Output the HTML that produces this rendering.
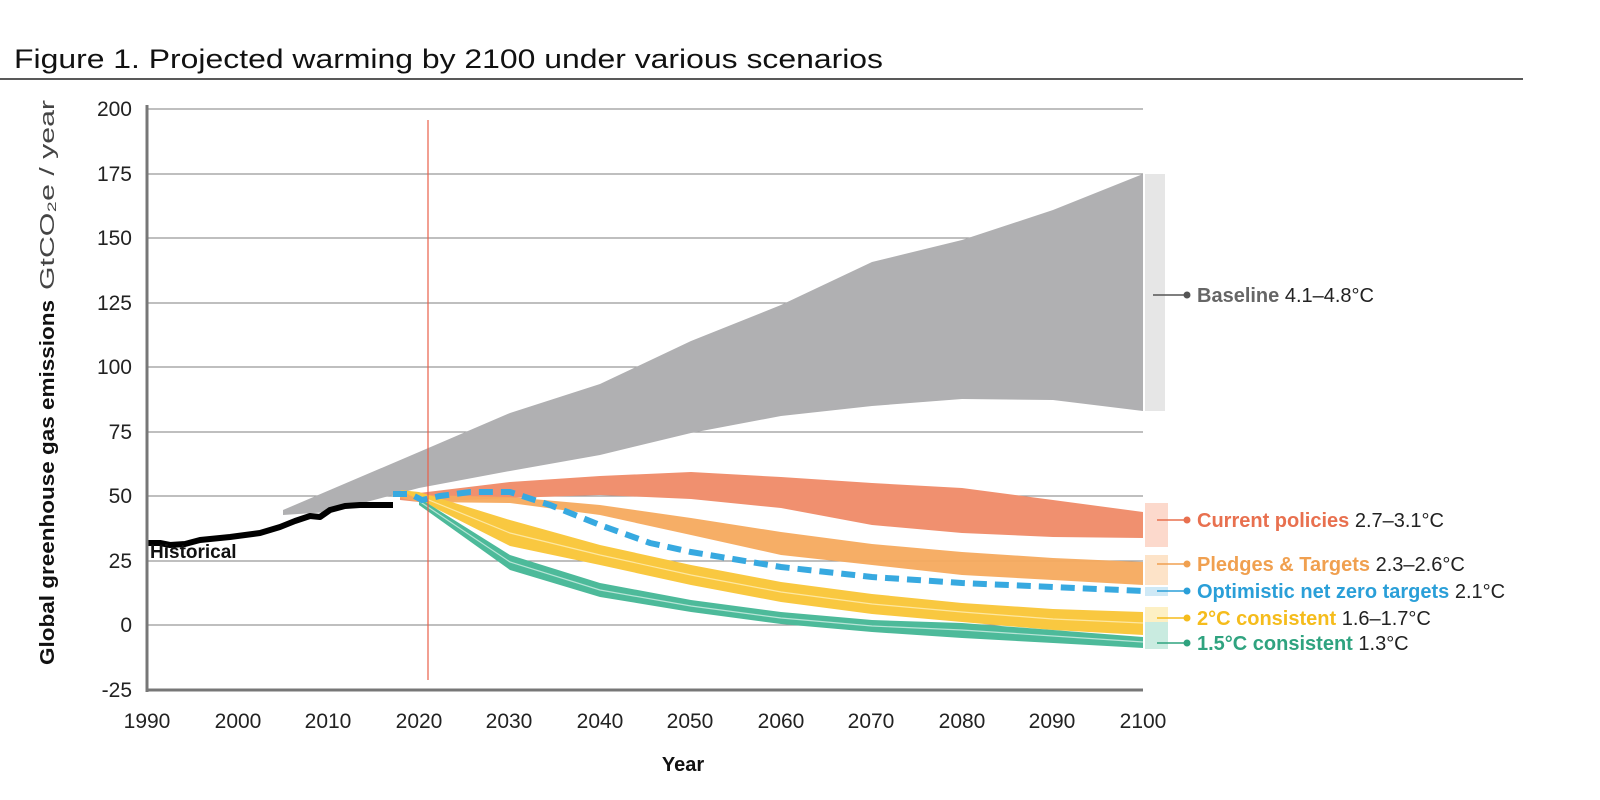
<!DOCTYPE html>
<html><head><meta charset="utf-8"><style>
body{margin:0;background:#fff;}
svg{display:block;font-family:"Liberation Sans",sans-serif;}
</style></head><body>
<svg width="1600" height="800" viewBox="0 0 1600 800">
<text x="14" y="68" font-size="27" fill="#111" textLength="869" lengthAdjust="spacingAndGlyphs">Figure 1. Projected warming by 2100 under various scenarios</text>
<line x1="0" y1="79" x2="1523" y2="79" stroke="#222" stroke-width="1.5"/>
<g stroke="#999" stroke-width="1.3">
<line x1="147" y1="109" x2="1143" y2="109"/><line x1="147" y1="174" x2="1143" y2="174"/>
<line x1="147" y1="238" x2="1143" y2="238"/><line x1="147" y1="303" x2="1143" y2="303"/>
<line x1="147" y1="367" x2="1143" y2="367"/><line x1="147" y1="432" x2="1143" y2="432"/>
<line x1="147" y1="496" x2="1143" y2="496"/><line x1="147" y1="561" x2="1143" y2="561"/>
<line x1="147" y1="625" x2="1143" y2="625"/>
</g>
<g font-size="21" fill="#222" text-anchor="end">
<text x="132" y="116">200</text><text x="132" y="181">175</text><text x="132" y="245">150</text>
<text x="132" y="310">125</text><text x="132" y="374">100</text><text x="132" y="439">75</text>
<text x="132" y="503">50</text><text x="132" y="568">25</text><text x="132" y="632">0</text>
<text x="132" y="697">-25</text>
</g>
<g font-size="21" fill="#222" text-anchor="middle">
<text x="147" y="728">1990</text><text x="238" y="728">2000</text><text x="328" y="728">2010</text>
<text x="419" y="728">2020</text><text x="509" y="728">2030</text><text x="600" y="728">2040</text>
<text x="690" y="728">2050</text><text x="781" y="728">2060</text><text x="871" y="728">2070</text>
<text x="962" y="728">2080</text><text x="1052" y="728">2090</text><text x="1143" y="728">2100</text>
</g>
<text x="683" y="771" font-size="20" font-weight="bold" text-anchor="middle" fill="#111">Year</text>
<text transform="translate(54,665) rotate(-90)" font-size="20" font-weight="bold" fill="#111" textLength="365" lengthAdjust="spacingAndGlyphs">Global greenhouse gas emissions</text>
<text transform="translate(54,290) rotate(-90)" font-size="20" fill="#444" textLength="190" lengthAdjust="spacingAndGlyphs">GtCO₂e / year</text>
<!-- baseline -->
<polygon fill="#b0b0b2" points="283,510 419,452 510,413 600,384 691,341 781,305 872,262 962,240 1053,210 1143,174 1143,411 1053,400 962,399 872,406 781,416 691,433 600,455 510,471 419,488 329,512 283,515"/>
<rect x="1145" y="174" width="20" height="237" fill="#e6e6e6"/>
<!-- current policies -->
<polygon fill="#f0906f" points="400,494 419,493 510,482 600,476 691,472 781,477 872,483 962,488 1053,500 1143,512 1143,538 1053,537 962,533 872,525 781,508 691,499 600,495 510,498 419,502 400,500"/>
<rect x="1145" y="503" width="23" height="44" fill="#fcd9cc"/>
<!-- pledges -->
<polygon fill="#f5aa5e" opacity="0.95" points="400,492 419,495 510,497 600,505 691,518 781,532 872,544 962,552 1053,558 1143,562 1143,585 1053,580 962,575 872,565 781,555 691,535 600,515 510,503 419,502 400,498"/>
<rect x="1145" y="555" width="23" height="30" fill="#fde3c8"/>
<!-- 2C -->
<polygon fill="#f9c840" points="400,490 419,492 510,520 600,545 691,565 781,582 872,594 962,603 1053,609 1143,612 1143,635 1053,630 962,622 872,614 781,602 691,585 600,565 510,546 419,500"/>
<polyline fill="none" stroke="#fde7a0" stroke-width="1.2" points="419,496 510,533 600,555 691,575 781,592 872,604 962,612 1053,619 1143,623"/>
<rect x="1145" y="607" width="23" height="28" fill="#fdf0c4"/>
<!-- 1.5C -->
<polygon fill="#4dba9a" points="419,498 510,555 600,583 691,600 781,612 872,620 962,623 1053,630 1143,637 1143,648 1053,643 962,638 872,632 781,624 691,612 600,597 510,570 419,505"/>
<polyline fill="none" stroke="#b7e4d6" stroke-width="1.2" points="419,501 510,562 600,590 691,606 781,618 872,626 962,630 1053,636 1143,642"/>
<rect x="1145" y="622" width="23" height="27" fill="#c9ebe0"/>
<!-- optimistic -->
<polyline fill="none" stroke="#37a9e0" stroke-width="6" stroke-dasharray="14 8" points="393,494 410,494 422,500 440,496 470,492 510,492 550,505 600,525 650,543 691,552 781,567 872,577 962,583 1053,587 1143,591"/>
<rect x="1145" y="587" width="23" height="9" fill="#cfe9f6"/>
<!-- historical -->
<polyline fill="none" stroke="#000" stroke-width="6" stroke-linejoin="round" points="147,543 160,543 170,545 185,544 200,540 230,537 260,533 280,527 295,521 310,516 320,517 330,510 345,506 360,505 393,505"/>
<text x="150" y="558" font-size="19" font-weight="bold" fill="#111">Historical</text>
<!-- red line -->
<line x1="428" y1="120" x2="428" y2="680" stroke="#e8604a" stroke-width="1.2"/>
<!-- axes -->
<line x1="147" y1="105" x2="147" y2="692" stroke="#777" stroke-width="3"/>
<line x1="146" y1="690" x2="1143" y2="690" stroke="#777" stroke-width="3"/>
<!-- legend -->
<g stroke-width="1.5">
<line x1="1153" y1="295" x2="1186" y2="295" stroke="#555"/><circle cx="1187" cy="295" r="3.5" fill="#555"/>
<line x1="1157" y1="520" x2="1186" y2="520" stroke="#e8704f"/><circle cx="1187" cy="520" r="3.5" fill="#e8704f"/>
<line x1="1157" y1="564" x2="1186" y2="564" stroke="#f0a050"/><circle cx="1187" cy="564" r="3.5" fill="#f0a050"/>
<line x1="1157" y1="591" x2="1186" y2="591" stroke="#2a9fd8"/><circle cx="1187" cy="591" r="3.5" fill="#2a9fd8"/>
<line x1="1157" y1="618" x2="1186" y2="618" stroke="#f5bc1c"/><circle cx="1187" cy="618" r="3.5" fill="#f5bc1c"/>
<line x1="1157" y1="643" x2="1186" y2="643" stroke="#2fa37f"/><circle cx="1187" cy="643" r="3.5" fill="#2fa37f"/>
</g>
<g font-size="20" fill="#222">
<text x="1197" y="302"><tspan font-weight="bold" fill="#666">Baseline</tspan> 4.1–4.8°C</text>
<text x="1197" y="527"><tspan font-weight="bold" fill="#e8704f">Current policies</tspan> 2.7–3.1°C</text>
<text x="1197" y="571"><tspan font-weight="bold" fill="#f0a050">Pledges &amp; Targets</tspan> 2.3–2.6°C</text>
<text x="1197" y="598"><tspan font-weight="bold" fill="#2a9fd8">Optimistic net zero targets</tspan> 2.1°C</text>
<text x="1197" y="625"><tspan font-weight="bold" fill="#f5bc1c">2°C consistent</tspan> 1.6–1.7°C</text>
<text x="1197" y="650"><tspan font-weight="bold" fill="#2fa37f">1.5°C consistent</tspan> 1.3°C</text>
</g>
</svg>
</body></html>
